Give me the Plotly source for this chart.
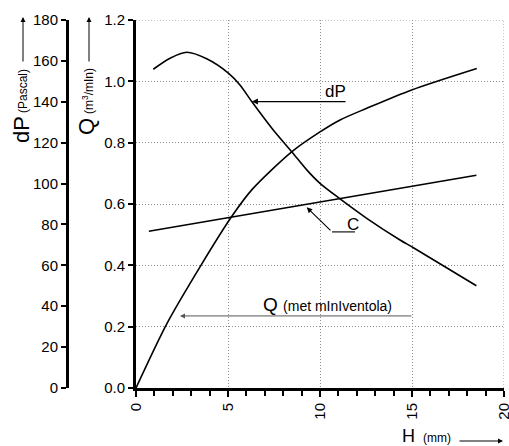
import plotly.graph_objects as go

# ---- data ----
H_dp = [0.94, 1.85, 2.76, 3.84, 5.02, 5.65, 6.29, 7.46, 8.46, 9.28, 10.0, 11.09, 12.54, 14.35, 15.1, 18.5]
dP_vals = [155.9, 161.3, 164.2, 161.0, 154.0, 148.2, 140.1, 126.2, 115.6, 106.7, 100.1, 92.5, 83.0, 72.4, 68.5, 50.0]

H_q = [0.0, 1.68, 3.48, 5.2, 6.29, 8.46, 10.0, 11.09, 12.54, 14.98, 18.52]
Q_vals = [0.0, 0.21, 0.395, 0.559, 0.646, 0.770, 0.835, 0.874, 0.912, 0.972, 1.042]

H_c = [0.7, 18.5]
C_vals = [0.511, 0.694]

x_ticks = [0, 5, 10, 15, 20]
q_ticks = [0.0, 0.2, 0.4, 0.6, 0.8, 1.0, 1.2]
dp_ticks = [0, 20, 40, 60, 80, 100, 120, 140, 160, 180]

FONT = "Arial, Liberation Sans, sans-serif"
W, H = 509, 446
ML, MR, MT, MB = 10, 5, 20, 58
PW = W - ML - MR
PH = H - MT - MB


def px(xp):
    return (xp - ML) / PW


def py(yp):
    return (H - MB - yp) / PH


fig = go.Figure()
fig.add_trace(go.Scatter(x=H_q, y=Q_vals, mode="lines",
                         line=dict(color="black", width=1.6, shape="spline", smoothing=0.8),
                         yaxis="y", showlegend=False))
fig.add_trace(go.Scatter(x=H_c, y=C_vals, mode="lines", line=dict(color="black", width=1.6),
                         yaxis="y", showlegend=False))
fig.add_trace(go.Scatter(x=H_dp, y=dP_vals, mode="lines",
                         line=dict(color="black", width=1.6, shape="spline", smoothing=0.8),
                         yaxis="y2", showlegend=False))

GRIDCOL = "#8c8c8c"
GRIDDASH = "1px,2px"
grid = dict(showgrid=True, gridcolor=GRIDCOL, gridwidth=1, griddash=GRIDDASH)

fig.update_layout(
    width=W, height=H,
    margin=dict(l=ML, r=MR, t=MT, b=MB),
    plot_bgcolor="white", paper_bgcolor="white",
    font=dict(family=FONT, size=15, color="black"),
    xaxis=dict(domain=[px(136), 1.0], range=[0, 20], tickvals=x_ticks, tickangle=-90,
               ticks="outside", ticklen=6, tickwidth=1.5, tickcolor="black",
               minor=dict(dtick=1, ticks="outside", ticklen=5, tickwidth=1.5, tickcolor="black", showgrid=False),
               showline=True, linewidth=3, linecolor="black", zeroline=False,
               tickfont=dict(size=15), automargin=False, ticklabeloverflow="allow", **grid),
    yaxis=dict(range=[0, 1.2], tickvals=q_ticks, tickformat=".1f",
               ticks="outside", ticklen=5, tickwidth=1.5, tickcolor="black",
               showline=True, linewidth=3, linecolor="black", zeroline=False,
               tickfont=dict(size=15), automargin=False, ticklabeloverflow="allow", **grid),
    yaxis2=dict(range=[0, 180], tickvals=dp_ticks, overlaying="y", anchor="free", side="left",
                position=px(67), ticks="outside", ticklen=5, tickwidth=1.5, tickcolor="black",
                showline=True, linewidth=3, linecolor="black", showgrid=False, zeroline=False,
                tickfont=dict(size=15), automargin=False, ticklabeloverflow="allow"),
)

C = dict(xanchor="center", yanchor="middle")
ann = []
# dP label + arrow
ann.append(dict(x=10.82, y=0.968, xref="x", yref="y", text="dP", showarrow=False,
                font=dict(size=17), **C))
ann.append(dict(x=6.30, y=0.934, ax=11.47, ay=0.934, xref="x", yref="y", axref="x", ayref="y",
                text="", showarrow=True, arrowhead=2, arrowsize=1, arrowwidth=1.2, arrowcolor="black"))
# C label + leader
ann.append(dict(x=11.77, y=0.533, xref="x", yref="y", text="C", showarrow=False,
                font=dict(size=17), **C))
ann.append(dict(x=9.28, y=0.589, ax=10.65, ay=0.509, xref="x", yref="y", axref="x", ayref="y",
                text="", showarrow=True, arrowhead=2, arrowsize=1, arrowwidth=1.1, arrowcolor="black"))
# Q (met miniventola)
ann.append(dict(x=10.43, y=0.272, xref="x", yref="y",
                text="Q <span style='font-size:14px'>(met mInIventola)</span>", showarrow=False,
                font=dict(size=19), **C))
ann.append(dict(x=2.39, y=0.235, ax=15.05, ay=0.235, xref="x", yref="y", axref="x", ayref="y",
                text="", showarrow=True, arrowhead=2, arrowsize=1, arrowwidth=1, arrowcolor="#555"))
# Axis titles (rotated)
ann.append(dict(x=px(21), y=py(130), xref="paper", yref="paper", textangle=-90,
                text="dP", showarrow=False, font=dict(size=22), **C))
ann.append(dict(x=px(23), y=py(91), xref="paper", yref="paper", textangle=-90,
                text="(Pascal)", showarrow=False, font=dict(size=12), **C))
ann.append(dict(x=px(23), y=py(17), ax=0, ay=46, xref="paper", yref="paper",
                text="", showarrow=True, arrowhead=2, arrowsize=1, arrowwidth=1, arrowcolor="black"))
ann.append(dict(x=px(86), y=py(127), xref="paper", yref="paper", textangle=-90,
                text="Q", showarrow=False, font=dict(size=22), **C))
ann.append(dict(x=px(88), y=py(91), xref="paper", yref="paper", textangle=-90,
                text="(m<sup>3</sup>/mIn)", showarrow=False, font=dict(size=12), **C))
ann.append(dict(x=px(89), y=py(17), ax=0, ay=46, xref="paper", yref="paper",
                text="", showarrow=True, arrowhead=2, arrowsize=1, arrowwidth=1, arrowcolor="black"))
ann.append(dict(x=px(408), y=py(436), xref="paper", yref="paper",
                text="H", showarrow=False, font=dict(size=18), **C))
ann.append(dict(x=px(437), y=py(438), xref="paper", yref="paper",
                text="(mm)", showarrow=False, font=dict(size=12), **C))
ann.append(dict(x=px(503), y=py(441), ax=-45, ay=0, xref="paper", yref="paper",
                text="", showarrow=True, arrowhead=2, arrowsize=1, arrowwidth=1, arrowcolor="black"))

shapes = [
    dict(type="line", xref="x", yref="y", x0=10.65, y0=0.509, x1=11.9, y1=0.509,
         line=dict(color="black", width=1.1)),
    # gridlines at the outer edges (right / top) which plotly omits
    dict(type="line", xref="x", yref="y", x0=x_ticks[-1], x1=x_ticks[-1], y0=q_ticks[0], y1=q_ticks[-1],
         line=dict(color=GRIDCOL, width=1, dash=GRIDDASH), layer="below"),
    dict(type="line", xref="x", yref="y", x0=x_ticks[0], x1=x_ticks[-1], y0=q_ticks[-1], y1=q_ticks[-1],
         line=dict(color=GRIDCOL, width=1, dash=GRIDDASH), layer="below"),
]

fig.update_layout(annotations=ann, shapes=shapes)
fig.write_html("out.html", post_script="document.body.style.margin='0px';",
               config={"displayModeBar": False})
